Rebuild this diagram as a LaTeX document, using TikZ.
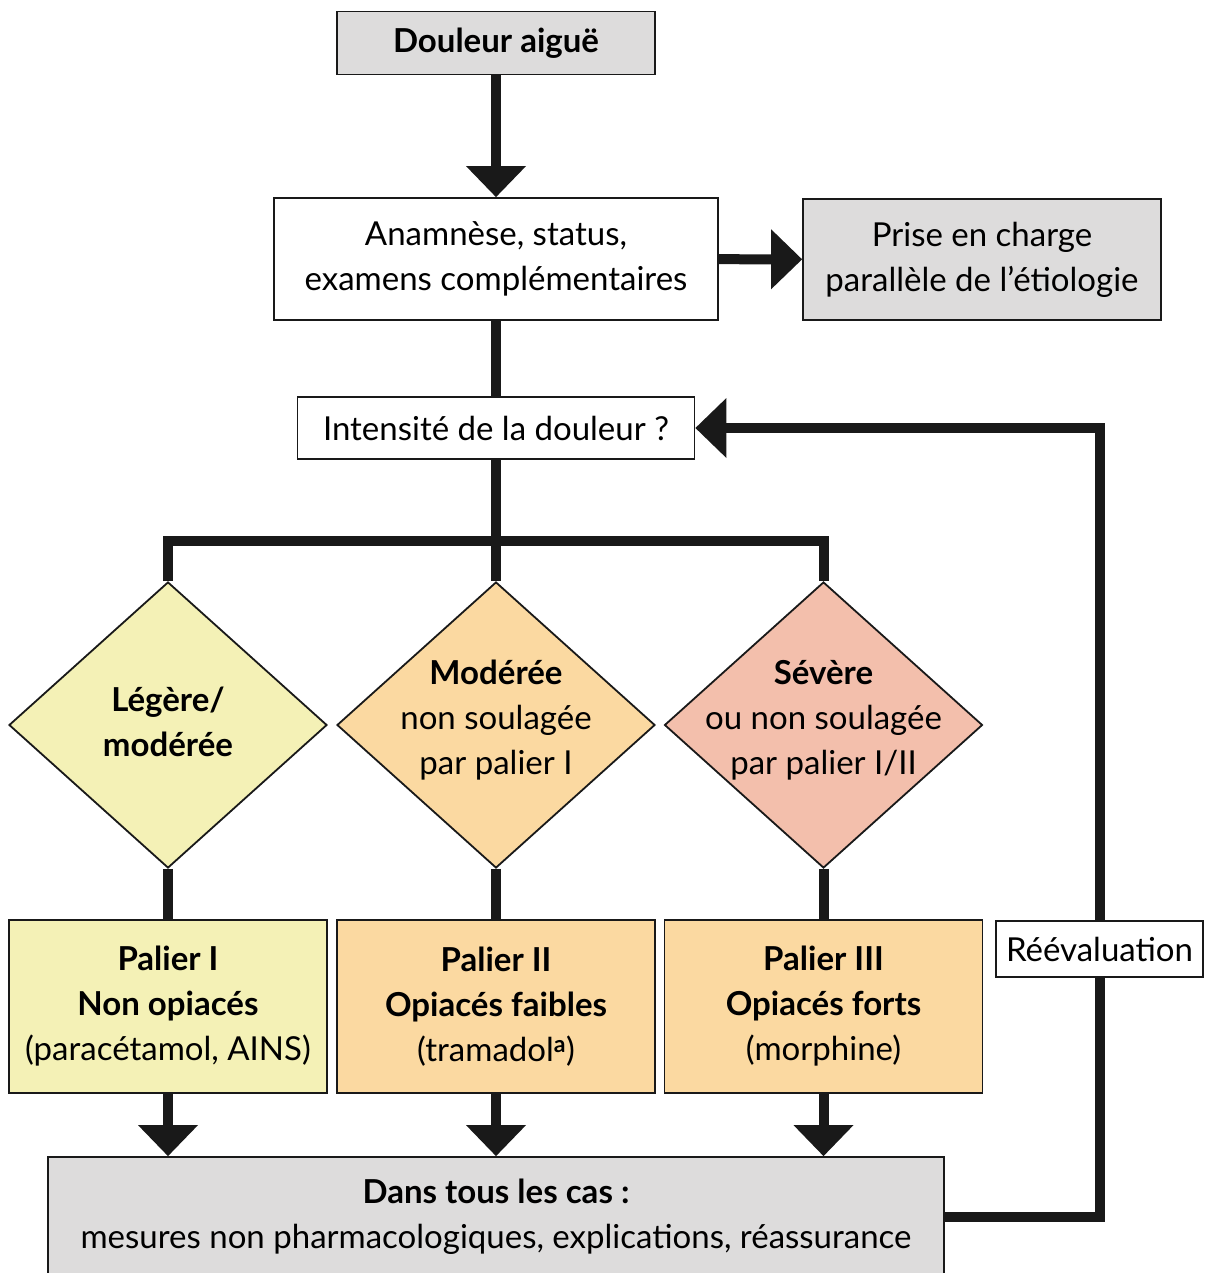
\documentclass[tikz,border=0pt]{standalone}
\usepackage{fontspec}
\setmainfont{Lato}
\usetikzlibrary{arrows.meta,shapes.geometric,backgrounds}
\definecolor{boxgray}{RGB}{221,220,220}
\definecolor{lyellow}{RGB}{244,241,182}
\definecolor{lorange}{RGB}{251,217,161}
\definecolor{lsalmon}{RGB}{243,191,172}
\definecolor{ink}{RGB}{25,25,25}
\begin{document}
\begin{tikzpicture}[x=1pt,y=-1pt,
  box/.style={draw=ink,line width=1.8pt,rectangle,inner sep=0pt,align=center,font=\fontsize{33}{45}\selectfont},
  dia/.style={draw=ink,line width=1.8pt,diamond,inner sep=0pt,minimum width=318pt,minimum height=286pt},
  txt/.style={align=center,inner sep=0pt,font=\fontsize{33}{45}\selectfont},
  conn/.style={line width=10pt,draw=ink,line join=miter},
  arr/.style={conn,-{Triangle[length=31pt,width=60pt,line width=0pt]}},
]
\useasboundingbox (0,0) rectangle (1205,1273);

% boxes
\node[box,fill=boxgray,minimum width=318pt,minimum height=63pt] (top) at (496,43) {\bfseries Douleur aiguë};
\node[box,fill=white,minimum width=444pt,minimum height=122pt] (anam) at (496,259) {Anamnèse, status,\\examens complémentaires};
\node[box,fill=boxgray,minimum width=358pt,minimum height=121pt] (prise) at (982,259.5) {Prise en charge\\parallèle de l’étiologie};
\node[box,fill=white,minimum width=397pt,minimum height=62pt] (int) at (496,428) {Intensité de la douleur~?};

% diamonds
\node[dia,fill=lyellow] (d1) at (168,725) {};
\node[dia,fill=lorange] (d2) at (496,725) {};
\node[dia,fill=lsalmon] (d3) at (823.5,725) {};
\node[txt] (d1t) at (168,722) {\bfseries Légère/\\\bfseries modérée};
\node[txt] (d2t) at (496,720) {\bfseries Modérée\\non soulagée\\par palier I};
\node[txt] (d3t) at (823.5,720) {\bfseries Sévère\\ou non soulagée\\par palier I/II};

% paliers
\node[box,fill=lyellow,minimum width=318pt,minimum height=173pt] (p1) at (168,1006.5) {\bfseries Palier I\\\bfseries Non opiacés\\(paracétamol, AINS)};
\node[box,fill=lorange,minimum width=318pt,minimum height=173pt] (p2) at (496,1006.5) {\bfseries Palier II\\\bfseries Opiacés faibles\\(tramadol\textsuperscript{\bfseries a})};
\node[box,fill=lorange,minimum width=318pt,minimum height=173pt] (p3) at (823.5,1006.5) {\bfseries Palier III\\\bfseries Opiacés forts\\(morphine)};

\node[box,fill=white,minimum width=207pt,minimum height=56pt] (reeval) at (1099.5,949) {Réévaluation};
\node[box,fill=boxgray,minimum width=896pt,minimum height=120pt] (dans) at (496,1217) {\bfseries Dans tous les cas~:\\mesures non pharmacologiques, explications, réassurance};

\coordinate (split) at (496,541);

\begin{scope}[on background layer]
\draw[arr] (top) -- (anam);
\draw[arr] (anam) -- (prise);
\draw[conn] (anam) -- (int);
\draw[conn] (int) -- (split);
\draw[conn] (d1.north) |- (split) -| (d3.north);
\draw[conn] (split) -- (d2.north);
\draw[conn] (d1.south) -- (p1.north);
\draw[conn] (d2.south) -- (p2.north);
\draw[conn] (d3.south) -- (p3.north);
\draw[arr] (p1.south) -- (p1.south |- dans.north);
\draw[arr] (p2.south) -- (p2.south |- dans.north);
\draw[arr] (p3.south) -- (p3.south |- dans.north);
\draw[arr] (dans.east) -| (int.east -| reeval) -- (int.east);
\end{scope}
\end{tikzpicture}
\end{document}
